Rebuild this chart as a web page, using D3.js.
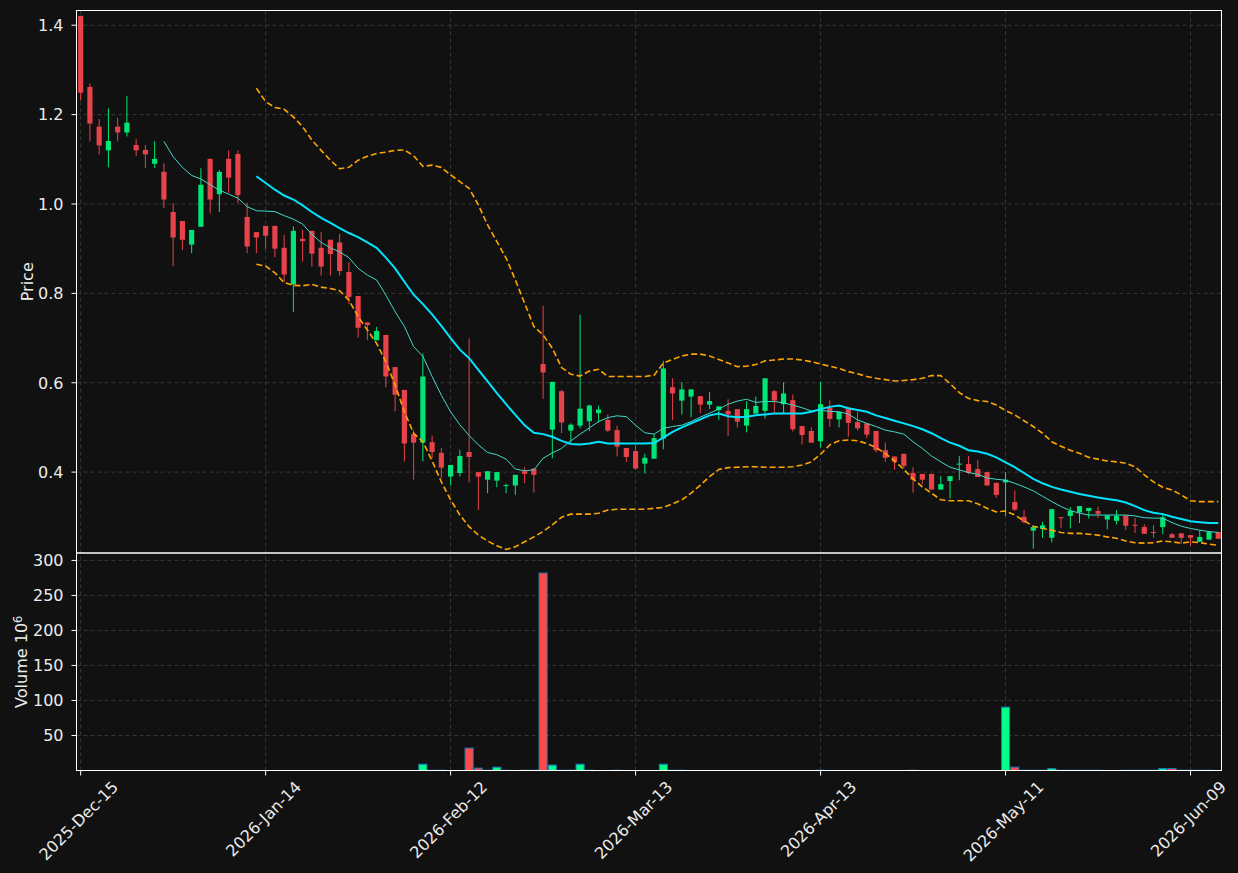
<!DOCTYPE html>
<html>
<head>
<meta charset="utf-8">
<script src="https://cdn.jsdelivr.net/npm/d3@7"></script>
<style>
  html, body { margin: 0; padding: 0; background: #111111; }
  svg text { font-family: "DejaVu Sans", sans-serif; }
</style>
</head>
<body>
<div id="chart"></div>
<script>
var WIDTH = 1238;
var HEIGHT = 873;

// candle data, one entry per trading day (index 0 = 2025-Dec-15)
const opens = [1.421,1.262,1.173,1.120,1.173,1.160,1.132,1.121,1.090,1.072,0.982,0.962,0.909,0.949,1.101,1.022,1.101,1.112,0.971,0.937,
  0.951,0.951,0.902,0.820,0.922,0.940,0.902,0.920,0.914,0.848,0.794,0.735,0.695,0.707,0.635,0.584,0.485,0.466,0.467,0.443,
  0.390,0.398,0.445,0.400,0.383,0.381,0.369,0.370,0.402,0.408,0.642,0.495,0.581,0.493,0.504,0.514,0.532,0.517,0.494,0.454,
  0.447,0.419,0.430,0.475,0.590,0.560,0.569,0.570,0.551,0.539,0.537,0.541,0.504,0.531,0.537,0.581,0.552,0.561,0.503,0.492,
  0.469,0.544,0.518,0.541,0.512,0.509,0.492,0.449,0.435,0.441,0.398,0.396,0.396,0.361,0.380,0.417,0.418,0.407,0.400,0.376,
  0.377,0.333,0.300,0.269,0.273,0.253,0.299,0.302,0.310,0.313,0.313,0.294,0.291,0.303,0.282,0.277,0.266,0.277,0.261,0.263,
  0.259,0.244,0.249,0.266]
const highs = [1.421,1.270,1.190,1.214,1.193,1.242,1.145,1.132,1.140,1.091,1.002,0.962,0.942,1.080,1.101,1.076,1.120,1.120,1.002,0.937,
  0.951,0.951,0.931,0.950,0.942,0.940,0.937,0.920,0.933,0.870,0.794,0.735,0.725,0.707,0.635,0.584,0.494,0.665,0.482,0.454,
  0.416,0.450,0.699,0.400,0.402,0.400,0.374,0.394,0.411,0.408,0.772,0.602,0.584,0.509,0.752,0.551,0.549,0.529,0.504,0.454,
  0.460,0.441,0.485,0.649,0.610,0.601,0.585,0.570,0.579,0.547,0.563,0.541,0.558,0.569,0.610,0.584,0.601,0.574,0.503,0.500,
  0.602,0.561,0.535,0.546,0.535,0.509,0.492,0.466,0.435,0.441,0.411,0.396,0.396,0.391,0.391,0.436,0.436,0.427,0.400,0.376,
  0.400,0.359,0.315,0.279,0.289,0.317,0.299,0.322,0.324,0.320,0.323,0.303,0.315,0.303,0.297,0.283,0.281,0.307,0.264,0.263,
  0.259,0.270,0.266,0.266]
const lows = [1.231,1.140,1.111,1.082,1.140,1.151,1.107,1.080,1.080,0.991,0.861,0.897,0.890,0.949,0.979,0.982,1.025,1.002,0.890,0.890,
  0.900,0.881,0.825,0.758,0.871,0.860,0.840,0.840,0.840,0.776,0.701,0.695,0.695,0.590,0.536,0.424,0.383,0.424,0.431,0.387,
  0.370,0.390,0.377,0.315,0.353,0.366,0.353,0.349,0.375,0.354,0.564,0.431,0.487,0.466,0.498,0.492,0.511,0.489,0.435,0.423,
  0.405,0.397,0.430,0.451,0.516,0.529,0.523,0.532,0.541,0.517,0.481,0.500,0.489,0.531,0.520,0.533,0.532,0.491,0.462,0.466,
  0.455,0.501,0.500,0.479,0.493,0.476,0.444,0.423,0.405,0.408,0.354,0.373,0.361,0.361,0.341,0.382,0.395,0.389,0.370,0.343,
  0.302,0.313,0.285,0.229,0.253,0.243,0.275,0.274,0.286,0.296,0.297,0.272,0.283,0.270,0.264,0.262,0.253,0.261,0.253,0.240,
  0.234,0.244,0.249,0.251]
const closes = [1.249,1.180,1.131,1.141,1.160,1.182,1.120,1.111,1.101,1.010,0.925,0.920,0.942,1.043,1.010,1.072,1.059,1.020,0.905,0.925,
  0.929,0.900,0.842,0.940,0.917,0.889,0.860,0.888,0.850,0.792,0.723,0.729,0.716,0.614,0.573,0.464,0.466,0.614,0.445,0.410,
  0.416,0.436,0.434,0.390,0.402,0.400,0.371,0.394,0.396,0.394,0.623,0.602,0.511,0.506,0.542,0.549,0.540,0.493,0.457,0.434,
  0.408,0.432,0.476,0.632,0.576,0.585,0.585,0.551,0.559,0.547,0.529,0.513,0.541,0.548,0.610,0.560,0.576,0.496,0.483,0.466,
  0.552,0.519,0.535,0.510,0.498,0.484,0.449,0.432,0.423,0.414,0.383,0.383,0.361,0.373,0.391,0.419,0.398,0.389,0.370,0.349,
  0.383,0.316,0.288,0.277,0.281,0.317,0.297,0.313,0.324,0.320,0.307,0.303,0.302,0.280,0.280,0.262,0.264,0.299,0.253,0.253,
  0.253,0.255,0.266,0.251]
// volume in millions
const volumes = [0,0,0,0,0,0,0,0,0,0,0,0,0,0,0,0,0,0,0,0,
  0,0,0,0,0,0,0,0,0,0,0,0,0,0,0,0,0,9,0.4,0.4,
  0,0,32,3.4,0.4,4.8,0.4,0,0.4,0.4,282,7.7,0.4,0.4,9,0.4,0,0,0.4,0,
  0,0,0,9,0.4,0.4,0,0,0,0,0,0,0,0,0,0,0,0,0,0,
  0.4,0,0,0,0,0,0,0,0,0,0.4,0,0,0,0,0,0,0,0,0,
  90.5,4.8,0.4,0.4,0.4,2.8,0.4,0.4,0.4,0.4,0.4,0,0,0.4,0.4,0.4,0.4,2.8,2.8,0.4,
  0.4,0.4,0.4,0]

// moving averages (10 and 20) and 20-day bands
const N = null
const ma10 = [N,N,N,N,N,N,N,N,N,1.140,1.106,1.082,1.064,1.056,1.043,1.031,1.022,1.013,0.994,0.985,
  0.984,0.983,0.974,0.966,0.955,0.932,0.914,0.902,0.893,0.880,0.856,0.841,0.830,0.796,0.759,0.726,0.681,0.659,0.614,0.572,
  0.535,0.506,0.482,0.461,0.444,0.439,0.429,0.407,0.403,0.405,0.431,0.443,0.453,0.470,0.485,0.499,0.513,0.522,0.526,0.524,
  0.505,0.488,0.485,0.498,0.502,0.505,0.513,0.523,0.532,0.541,0.552,0.559,0.563,0.556,0.558,0.558,0.555,0.550,0.544,0.537,
  0.538,0.536,0.535,0.530,0.517,0.509,0.502,0.494,0.490,0.485,0.468,0.453,0.436,0.423,0.411,0.405,0.399,0.395,0.387,0.384,
  0.382,0.375,0.367,0.358,0.346,0.334,0.323,0.314,0.308,0.304,0.304,0.304,0.304,0.304,0.302,0.298,0.297,0.297,0.287,0.279,
  0.274,0.270,0.267,0.265]
const ma20 = [N,N,N,N,N,N,N,N,N,N,N,N,N,N,N,N,N,N,N,1.062,
  1.047,1.032,1.019,1.010,0.997,0.982,0.969,0.958,0.946,0.935,0.926,0.914,0.902,0.880,0.856,0.826,0.797,0.776,0.753,0.727,
  0.700,0.674,0.655,0.629,0.603,0.577,0.552,0.528,0.505,0.488,0.485,0.479,0.470,0.463,0.462,0.464,0.468,0.464,0.464,0.464,
  0.464,0.464,0.465,0.477,0.490,0.500,0.509,0.518,0.527,0.531,0.525,0.523,0.524,0.527,0.529,0.531,0.531,0.531,0.531,0.535,
  0.541,0.546,0.549,0.543,0.539,0.535,0.527,0.521,0.515,0.509,0.503,0.496,0.487,0.476,0.466,0.459,0.449,0.446,0.441,0.433,
  0.422,0.411,0.398,0.385,0.375,0.367,0.361,0.356,0.351,0.347,0.343,0.340,0.337,0.332,0.324,0.315,0.309,0.306,0.300,0.295,
  0.290,0.288,0.286,0.286]
const bbUpper = [N,N,N,N,N,N,N,N,N,N,N,N,N,N,N,N,N,N,N,1.259,
  1.229,1.216,1.212,1.195,1.173,1.143,1.120,1.098,1.079,1.082,1.098,1.107,1.113,1.116,1.120,1.121,1.108,1.084,1.087,1.082,
  1.065,1.050,1.035,0.998,0.953,0.916,0.879,0.830,0.778,0.726,0.707,0.677,0.634,0.619,0.615,0.626,0.630,0.614,0.614,0.614,
  0.614,0.614,0.617,0.644,0.652,0.660,0.664,0.664,0.660,0.652,0.644,0.636,0.637,0.641,0.649,0.651,0.653,0.653,0.651,0.647,
  0.642,0.637,0.632,0.625,0.620,0.614,0.610,0.607,0.604,0.605,0.607,0.610,0.616,0.616,0.598,0.578,0.565,0.560,0.558,0.550,
  0.538,0.528,0.515,0.502,0.487,0.468,0.458,0.449,0.442,0.433,0.429,0.425,0.423,0.420,0.412,0.394,0.378,0.366,0.360,0.349,
  0.336,0.334,0.334,0.334]
const bbLower = [N,N,N,N,N,N,N,N,N,N,N,N,N,N,N,N,N,N,N,0.865,
  0.861,0.846,0.824,0.818,0.817,0.820,0.814,0.811,0.806,0.785,0.748,0.718,0.688,0.647,0.595,0.535,0.487,0.468,0.425,0.378,
  0.338,0.304,0.278,0.259,0.246,0.235,0.227,0.233,0.244,0.255,0.267,0.282,0.299,0.306,0.306,0.306,0.308,0.315,0.317,0.317,
  0.317,0.317,0.319,0.321,0.329,0.338,0.353,0.371,0.390,0.406,0.410,0.411,0.412,0.412,0.411,0.411,0.411,0.412,0.416,0.423,
  0.440,0.461,0.470,0.472,0.470,0.464,0.455,0.442,0.425,0.406,0.385,0.367,0.353,0.338,0.336,0.336,0.336,0.329,0.319,0.311,
  0.313,0.304,0.291,0.279,0.274,0.270,0.265,0.263,0.263,0.261,0.259,0.255,0.252,0.246,0.242,0.241,0.242,0.246,0.244,0.241,
  0.244,0.242,0.239,0.236]

const tickIdx = [0, 20, 40, 60, 80, 100, 120]
const tickLabels = ["2025-Dec-15", "2026-Jan-14", "2026-Feb-12", "2026-Mar-13", "2026-Apr-13", "2026-May-11", "2026-Jun-09"]
const priceTicks = [0.4, 0.6, 0.8, 1.0, 1.2, 1.4]
const volTicks = [50, 100, 150, 200, 250, 300]

var LEFT = 76.5, RIGHT = 1221.5, TOP = 10.5, MID = 553, BOTTOM = 770.5;
var UP = "#00e676", DOWN = "#e8424a", VUP = "#00ff88", VDOWN = "#ff4a4a";
var GRID = "#3c3c3c", FG = "#ececec", FS = "16px";

const svg = d3.select("#chart").append("svg").attr("width", WIDTH).attr("height", HEIGHT)
svg.append("rect").attr("width", WIDTH).attr("height", HEIGHT).attr("fill", "#111111")

// scales
const x = d3.scaleLinear().domain([-0.45, 123.35]).range([LEFT, RIGHT])
const y = d3.scaleLinear().domain([0.219, 1.433]).range([MID, TOP])
const yv = d3.scaleLinear().domain([0, 310.6]).range([BOTTOM, MID])
const step = x(1) - x(0)

// grid
const grid = svg.append("g").attr("stroke", GRID).attr("stroke-width", 0.9).attr("stroke-dasharray", "4,3")
priceTicks.forEach(t => grid.append("line").attr("x1", LEFT).attr("x2", RIGHT).attr("y1", y(t)).attr("y2", y(t)))
volTicks.forEach(t => grid.append("line").attr("x1", LEFT).attr("x2", RIGHT).attr("y1", yv(t)).attr("y2", yv(t)))
tickIdx.forEach(t => grid.append("line").attr("x1", x(t)).attr("x2", x(t)).attr("y1", TOP).attr("y2", BOTTOM))

// candles
const idx = d3.range(opens.length)
const candles = svg.append("g")
candles.selectAll(".wick").data(idx).enter().append("line")
  .attr("x1", i => x(i)).attr("x2", i => x(i))
  .attr("y1", i => y(highs[i])).attr("y2", i => y(lows[i]))
  .attr("stroke", i => closes[i] >= opens[i] ? UP : DOWN).attr("stroke-width", 1)
candles.selectAll(".body").data(idx).enter().append("rect")
  .attr("x", i => x(i) - step * 0.28).attr("width", step * 0.56)
  .attr("y", i => y(Math.max(opens[i], closes[i])))
  .attr("height", i => Math.max(1, Math.abs(y(opens[i]) - y(closes[i]))))
  .attr("fill", i => closes[i] >= opens[i] ? UP : DOWN)

// lines
const line = d3.line().defined(d => d != null).x((d, i) => x(i)).y(d => y(d))
svg.append("path").datum(bbUpper).attr("d", line).attr("fill", "none").attr("stroke", "#ffa500").attr("stroke-width", 1.6).attr("stroke-dasharray", "6,3")
svg.append("path").datum(bbLower).attr("d", line).attr("fill", "none").attr("stroke", "#ffa500").attr("stroke-width", 1.6).attr("stroke-dasharray", "6,3")
svg.append("path").datum(ma10).attr("d", line).attr("fill", "none").attr("stroke", "#3fd9c8").attr("stroke-width", 1)
svg.append("path").datum(ma20).attr("d", line).attr("fill", "none").attr("stroke", "#00e5ff").attr("stroke-width", 2)

// volume bars
const vidx = idx.filter(i => volumes[i] > 0)
svg.append("g").selectAll("rect").data(vidx).enter().append("rect")
  .attr("x", i => x(i) - step * 0.44).attr("width", step * 0.88)
  .attr("y", i => yv(volumes[i])).attr("height", i => BOTTOM - yv(volumes[i]))
  .attr("fill", i => closes[i] >= opens[i] ? VUP : VDOWN)
  .attr("stroke", "#1f77b4").attr("stroke-width", 1)

// frames
svg.append("rect").attr("x", LEFT).attr("y", TOP).attr("width", RIGHT - LEFT).attr("height", MID - TOP).attr("fill", "none").attr("stroke", "#ffffff").attr("stroke-width", 1)
svg.append("rect").attr("x", LEFT).attr("y", MID).attr("width", RIGHT - LEFT).attr("height", BOTTOM - MID).attr("fill", "none").attr("stroke", "#ffffff").attr("stroke-width", 1)

// y axes
const ax = svg.append("g").attr("fill", FG).attr("font-size", FS)
priceTicks.forEach(t => {
  ax.append("line").attr("x1", LEFT - 5).attr("x2", LEFT).attr("y1", y(t)).attr("y2", y(t)).attr("stroke", "#ffffff")
  ax.append("text").attr("x", LEFT - 13).attr("y", y(t)).attr("dy", "0.36em").attr("text-anchor", "end").text(d3.format(".1f")(t))
})
volTicks.forEach(t => {
  ax.append("line").attr("x1", LEFT - 5).attr("x2", LEFT).attr("y1", yv(t)).attr("y2", yv(t)).attr("stroke", "#ffffff")
  ax.append("text").attr("x", LEFT - 13).attr("y", yv(t)).attr("dy", "0.36em").attr("text-anchor", "end").text(t)
})

// x axis ticks and rotated labels
tickIdx.forEach((t, k) => {
  ax.append("line").attr("x1", x(t)).attr("x2", x(t)).attr("y1", BOTTOM).attr("y2", BOTTOM + 5).attr("stroke", "#ffffff")
  const lbl = ax.append("text").attr("text-anchor", "middle").attr("dominant-baseline", "central").text(tickLabels[k])
  const w = lbl.node().getComputedTextLength()
  const half = (w + 13) * Math.SQRT1_2 / 2
  lbl.attr("transform", "translate(" + (x(t) - 2) + "," + (BOTTOM + 9 + half) + ") rotate(-45)")
})

// axis titles
ax.append("text").attr("transform", "translate(33," + ((TOP + MID) / 2) + ") rotate(-90)").attr("text-anchor", "middle").text("Price")
const vl = ax.append("text").attr("transform", "translate(27," + ((MID + BOTTOM) / 2) + ") rotate(-90)").attr("text-anchor", "middle")
vl.append("tspan").text("Volume  10")
vl.append("tspan").attr("dy", "-0.45em").attr("font-size", "11.5px").text("6")
</script>
</body>
</html>
